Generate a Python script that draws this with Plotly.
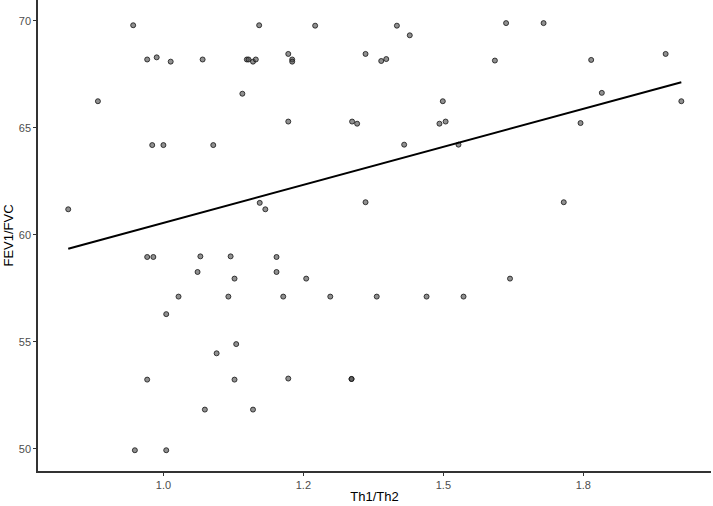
import numpy as np
import plotly.graph_objects as go

# Th1/Th2 ratio and FEV1/FVC values
th_ratio = [
    0.946, 0.971, 0.988, 1.013, 1.070, 1.149, 1.152, 1.160, 1.165, 1.171,
    1.141, 0.883, 0.980, 1.000, 1.089, 0.830, 1.172, 1.182,
    0.971, 0.982, 1.066, 1.120, 1.061, 1.127, 1.027, 1.116, 1.005, 1.130,
    1.095, 0.971, 1.127, 1.074, 1.160, 0.949, 1.005,
    1.271, 1.417, 1.440, 1.223, 1.230, 1.230, 1.361, 1.389, 1.398, 1.592,
    1.499, 1.223, 1.337, 1.346, 1.493, 1.504, 1.430, 1.527, 1.361,
    1.202, 1.202, 1.255, 1.214, 1.298, 1.381, 1.470, 1.536, 1.223, 1.336, 1.336,
    1.612, 1.679, 1.764, 1.897, 1.783, 1.925, 1.745, 1.715, 1.619,
]
fev_fvc = [
    69.8, 68.2, 68.3, 68.1, 68.2, 68.2, 68.2, 68.1, 68.2, 69.8,
    66.6, 66.25, 64.2, 64.2, 64.2, 61.2, 61.5, 61.2,
    58.97, 58.97, 59.0, 59.0, 58.27, 57.96, 57.12, 57.12, 56.3, 54.9,
    54.47, 53.24, 53.24, 51.84, 51.84, 49.94, 49.94,
    69.78, 69.78, 69.33, 68.46, 68.2, 68.1, 68.46, 68.13, 68.22, 68.15,
    66.25, 65.3, 65.3, 65.2, 65.2, 65.3, 64.22, 64.22, 61.53,
    58.97, 58.27, 57.96, 57.12, 57.12, 57.12, 57.12, 57.12, 53.29, 53.27, 53.27,
    69.9, 69.9, 68.18, 68.46, 66.64, 66.25, 65.23, 61.53, 57.96,
]
x_tick_vals = [1.0, 1.25, 1.5, 1.75]
x_tick_text = ["1.0", "1.2", "1.5", "1.8"]
y_tick_vals = [50, 55, 60, 65, 70]

# linear fit
slope, intercept = np.polyfit(th_ratio, fev_fvc, 1)
fit_x = np.array([min(th_ratio), max(th_ratio)])
fit_y = slope * fit_x + intercept

fig = go.Figure()
fig.add_trace(go.Scatter(
    x=th_ratio, y=fev_fvc, mode="markers",
    marker=dict(size=5, color="rgba(70,70,70,0.6)",
                line=dict(width=1, color="rgba(20,20,20,0.8)")),
    hoverinfo="skip",
))
fig.add_trace(go.Scatter(
    x=fit_x, y=fit_y, mode="lines",
    line=dict(color="black", width=2),
    hoverinfo="skip",
))

axis_style = dict(
    showline=True, linecolor="#333333", linewidth=1.5,
    ticks="outside", ticklen=3, tickcolor="#333333",
    showgrid=False, zeroline=False, automargin=False,
    tickfont=dict(size=11, color="#4d4d4d"),
)

fig.update_layout(
    width=713, height=506,
    margin=dict(l=38, r=2, t=0, b=35),
    plot_bgcolor="white", paper_bgcolor="white",
    showlegend=False,
    font=dict(family="Liberation Sans, Arial, sans-serif"),
    xaxis=dict(range=[0.776, 1.978], tickvals=x_tick_vals, ticktext=x_tick_text,
               title=dict(text="Th1/Th2", font=dict(size=13, color="black"), standoff=2),
               **axis_style),
    yaxis=dict(range=[48.97, 70.98], tickvals=y_tick_vals,
               title=dict(text="FEV1/FVC", font=dict(size=13, color="black"), standoff=2),
               **axis_style),
)

# drop the default page margin so the figure sits at the window's corner
fig.write_html("out.html", config={"displayModeBar": False},
               post_script="document.body.style.margin='0';")
